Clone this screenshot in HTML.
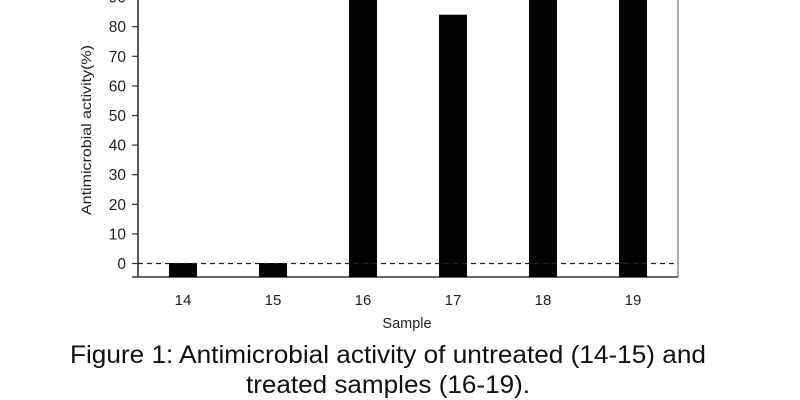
<!DOCTYPE html>
<html><head><style>
html,body{margin:0;padding:0;background:#fff;width:800px;height:400px;overflow:hidden}
</style></head><body>
<svg width="800" height="400" xmlns="http://www.w3.org/2000/svg" font-family="Liberation Sans, sans-serif">
<rect width="800" height="400" fill="#fff"/>
<line x1="138" y1="0" x2="138" y2="277" stroke="#222" stroke-width="1.5"/>
<line x1="678" y1="0" x2="678" y2="277" stroke="#777" stroke-width="1.2"/>
<line x1="132" y1="277" x2="678" y2="277" stroke="#333" stroke-width="1.5"/>
<g stroke="#333" stroke-width="1.2">
<line x1="132" y1="263.5" x2="138" y2="263.5"/>
<line x1="132" y1="233.9" x2="138" y2="233.9"/>
<line x1="132" y1="204.3" x2="138" y2="204.3"/>
<line x1="132" y1="174.7" x2="138" y2="174.7"/>
<line x1="132" y1="145.1" x2="138" y2="145.1"/>
<line x1="132" y1="115.5" x2="138" y2="115.5"/>
<line x1="132" y1="85.9" x2="138" y2="85.9"/>
<line x1="132" y1="56.3" x2="138" y2="56.3"/>
<line x1="132" y1="26.7" x2="138" y2="26.7"/>
<line x1="132" y1="-2.9" x2="138" y2="-2.9"/>
</g>
<g font-size="15.5" fill="#222" text-anchor="end">
<text x="126" y="269">0</text>
<text x="126" y="239.4">10</text>
<text x="126" y="209.8">20</text>
<text x="126" y="180.2">30</text>
<text x="126" y="150.6">40</text>
<text x="126" y="121">50</text>
<text x="126" y="91.4">60</text>
<text x="126" y="61.8">70</text>
<text x="126" y="32.2">80</text>
<text x="126" y="2.6">90</text>
</g>
<text transform="translate(91,130) rotate(-90)" font-size="14" fill="#222" text-anchor="middle" textLength="170" lengthAdjust="spacingAndGlyphs">Antimicrobial activity(%)</text>
<g fill="#050505">
<rect x="169" y="263" width="28" height="14"/>
<rect x="259" y="263" width="28" height="14"/>
<rect x="349" y="0" width="28" height="277"/>
<rect x="439" y="14.7" width="28" height="262.3"/>
<rect x="529" y="0" width="28" height="277"/>
<rect x="619" y="0" width="28" height="277"/>
</g>
<line x1="138" y1="263.5" x2="678" y2="263.5" stroke="#222" stroke-width="1.2" stroke-dasharray="5,4"/>
<g font-size="15" fill="#222" text-anchor="middle">
<text x="183" y="305">14</text>
<text x="273" y="305">15</text>
<text x="363" y="305">16</text>
<text x="453" y="305">17</text>
<text x="543" y="305">18</text>
<text x="633" y="305">19</text>
<text x="407" y="328" font-size="14.5">Sample</text>
</g>
<text x="70" y="363" font-size="25" fill="#111" textLength="636" lengthAdjust="spacingAndGlyphs">Figure 1: Antimicrobial activity of untreated (14-15) and</text>
<text x="246" y="393" font-size="25" fill="#111" textLength="284" lengthAdjust="spacingAndGlyphs">treated samples (16-19).</text>
</svg>
</body></html>
